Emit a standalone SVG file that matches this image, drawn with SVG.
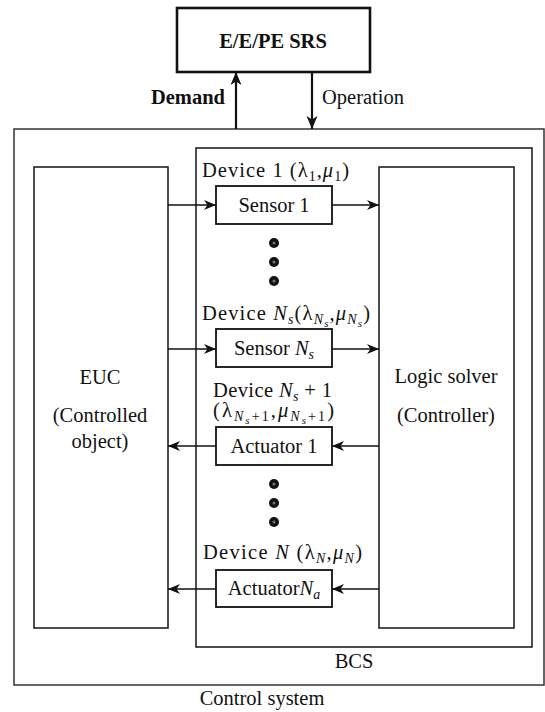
<svg xmlns="http://www.w3.org/2000/svg" width="545" height="712" viewBox="0 0 545 712">
<style>
text{font-family:"Liberation Serif",Tinos,"Times New Roman","DejaVu Serif",serif;font-size:20.5px;fill:#111}
.b{font-weight:bold}
.i{font-style:italic}
.s{font-size:14px}
.ss{font-size:11px}
.box{fill:#fff;stroke:#222;stroke-width:1.6}
.dev{fill:#fff;stroke:#111;stroke-width:1.8}
.conn{stroke:#111;stroke-width:1.4;fill:none}
.thick{stroke:#111;stroke-width:2.2;fill:none}
</style>
<defs>
<marker id="ah" viewBox="-13 -6 14 12" refX="0" refY="0" markerWidth="14" markerHeight="12" markerUnits="userSpaceOnUse" orient="auto">
<path d="M0,0 L-12,-5 L-8.5,0 L-12,5 Z" fill="#111"/>
</marker>
<marker id="ahb" viewBox="-14 -7 15 14" refX="0" refY="0" markerWidth="15" markerHeight="14" markerUnits="userSpaceOnUse" orient="auto">
<path d="M0,0 L-13,-5.5 L-9.5,0 L-13,5.5 Z" fill="#111"/>
</marker>
</defs>

<g id="control-system">
<rect x="14" y="129" width="530" height="556" fill="#fff" stroke="#333" stroke-width="1.5"/>
<text x="262" y="705" text-anchor="middle">Control system</text>
</g>

<g id="bcs">
<rect x="196" y="148" width="336" height="499" class="box"/>
<text x="354" y="668" text-anchor="middle">BCS</text>
</g>

<g id="srs">
<rect x="177" y="8" width="193" height="64" fill="#fff" stroke="#111" stroke-width="2.6"/>
<text x="273" y="48" text-anchor="middle" class="b">E/E/PE SRS</text>
</g>

<g id="euc">
<rect x="34" y="167" width="134" height="461" class="box"/>
<text x="100" y="384" text-anchor="middle">EUC</text>
<text x="100" y="422" text-anchor="middle">(Controlled</text>
<text x="100" y="448" text-anchor="middle">object)</text>
</g>

<g id="logic-solver">
<rect x="379" y="167" width="135" height="461" class="box"/>
<text x="446" y="383" text-anchor="middle">Logic solver</text>
<text x="446" y="422" text-anchor="middle">(Controller)</text>
</g>

<g id="sensor-1">
<text x="202" y="177" textLength="147" lengthAdjust="spacing">Device 1 (λ<tspan class="s" dy="4">1</tspan><tspan dy="-4">,</tspan><tspan class="i">μ</tspan><tspan class="s" dy="4">1</tspan><tspan dy="-4">)</tspan></text>
<rect x="216" y="186" width="116" height="38" class="dev"/>
<text x="274" y="212" text-anchor="middle">Sensor 1</text>
</g>

<g id="dots-1">
<circle cx="274" cy="243" r="5" fill="#111"/><circle cx="274" cy="243" r="1.5" fill="#777"/>
<circle cx="274" cy="262" r="5" fill="#111"/><circle cx="274" cy="262" r="1.5" fill="#777"/>
<circle cx="274" cy="281" r="5" fill="#111"/><circle cx="274" cy="281" r="1.5" fill="#777"/>
</g>

<g id="sensor-ns">
<text x="202" y="320" textLength="168" lengthAdjust="spacing">Device <tspan class="i">N</tspan><tspan class="s i" dy="4">s</tspan><tspan dy="-4">(λ</tspan><tspan class="s i" dy="4">N</tspan><tspan class="ss i" dy="3">s</tspan><tspan dy="-7">,</tspan><tspan class="i">μ</tspan><tspan class="s i" dy="4">N</tspan><tspan class="ss i" dy="3">s</tspan><tspan dy="-7">)</tspan></text>
<rect x="216" y="329" width="116" height="38" class="dev"/>
<text x="274" y="355" text-anchor="middle">Sensor <tspan class="i">N</tspan><tspan class="s i" dy="4">s</tspan></text>
</g>

<g id="actuator-1">
<text x="213" y="397" textLength="119" lengthAdjust="spacing">Device <tspan class="i">N</tspan><tspan class="s i" dy="4">s</tspan><tspan dy="-4"> + 1</tspan></text>
<text x="213" y="417" textLength="121" lengthAdjust="spacing">(λ<tspan class="s" dy="4"><tspan class="i">N</tspan><tspan class="ss i" dy="3">s</tspan><tspan dy="-3">+1</tspan></tspan><tspan dy="-4">,</tspan><tspan class="i">μ</tspan><tspan class="s" dy="4"><tspan class="i">N</tspan><tspan class="ss i" dy="3">s</tspan><tspan dy="-3">+1</tspan></tspan><tspan dy="-4">)</tspan></text>
<rect x="216" y="427" width="116" height="38" class="dev"/>
<text x="274" y="453" text-anchor="middle">Actuator 1</text>
</g>

<g id="dots-2">
<circle cx="274" cy="484" r="5" fill="#111"/><circle cx="274" cy="484" r="1.5" fill="#777"/>
<circle cx="274" cy="503" r="5" fill="#111"/><circle cx="274" cy="503" r="1.5" fill="#777"/>
<circle cx="274" cy="522" r="5" fill="#111"/><circle cx="274" cy="522" r="1.5" fill="#777"/>
</g>

<g id="actuator-na">
<text x="203" y="559" textLength="159" lengthAdjust="spacing">Device <tspan class="i">N</tspan> (λ<tspan class="s i" dy="4">N</tspan><tspan dy="-4">,</tspan><tspan class="i">μ</tspan><tspan class="s i" dy="4">N</tspan><tspan dy="-4">)</tspan></text>
<rect x="216" y="570" width="116" height="37" class="dev"/>
<text x="274" y="595" text-anchor="middle">Actuator<tspan class="i">N</tspan><tspan class="s i" dy="4">a</tspan></text>
</g>

<g id="connectors">
<line x1="236" y1="129" x2="236" y2="72" class="thick" marker-end="url(#ahb)"/>
<line x1="312" y1="72" x2="312" y2="129" class="thick" marker-end="url(#ahb)"/>
<text x="225" y="104" text-anchor="end" class="b">Demand</text>
<text x="322" y="104">Operation</text>
<line x1="168" y1="205" x2="216" y2="205" class="conn" marker-end="url(#ah)"/>
<line x1="332" y1="205" x2="379" y2="205" class="conn" marker-end="url(#ah)"/>
<line x1="168" y1="349" x2="216" y2="349" class="conn" marker-end="url(#ah)"/>
<line x1="332" y1="349" x2="379" y2="349" class="conn" marker-end="url(#ah)"/>
<line x1="379" y1="446" x2="332" y2="446" class="conn" marker-end="url(#ah)"/>
<line x1="216" y1="446" x2="168" y2="446" class="conn" marker-end="url(#ah)"/>
<line x1="379" y1="589" x2="332" y2="589" class="conn" marker-end="url(#ah)"/>
<line x1="216" y1="589" x2="168" y2="589" class="conn" marker-end="url(#ah)"/>
</g>
</svg>
